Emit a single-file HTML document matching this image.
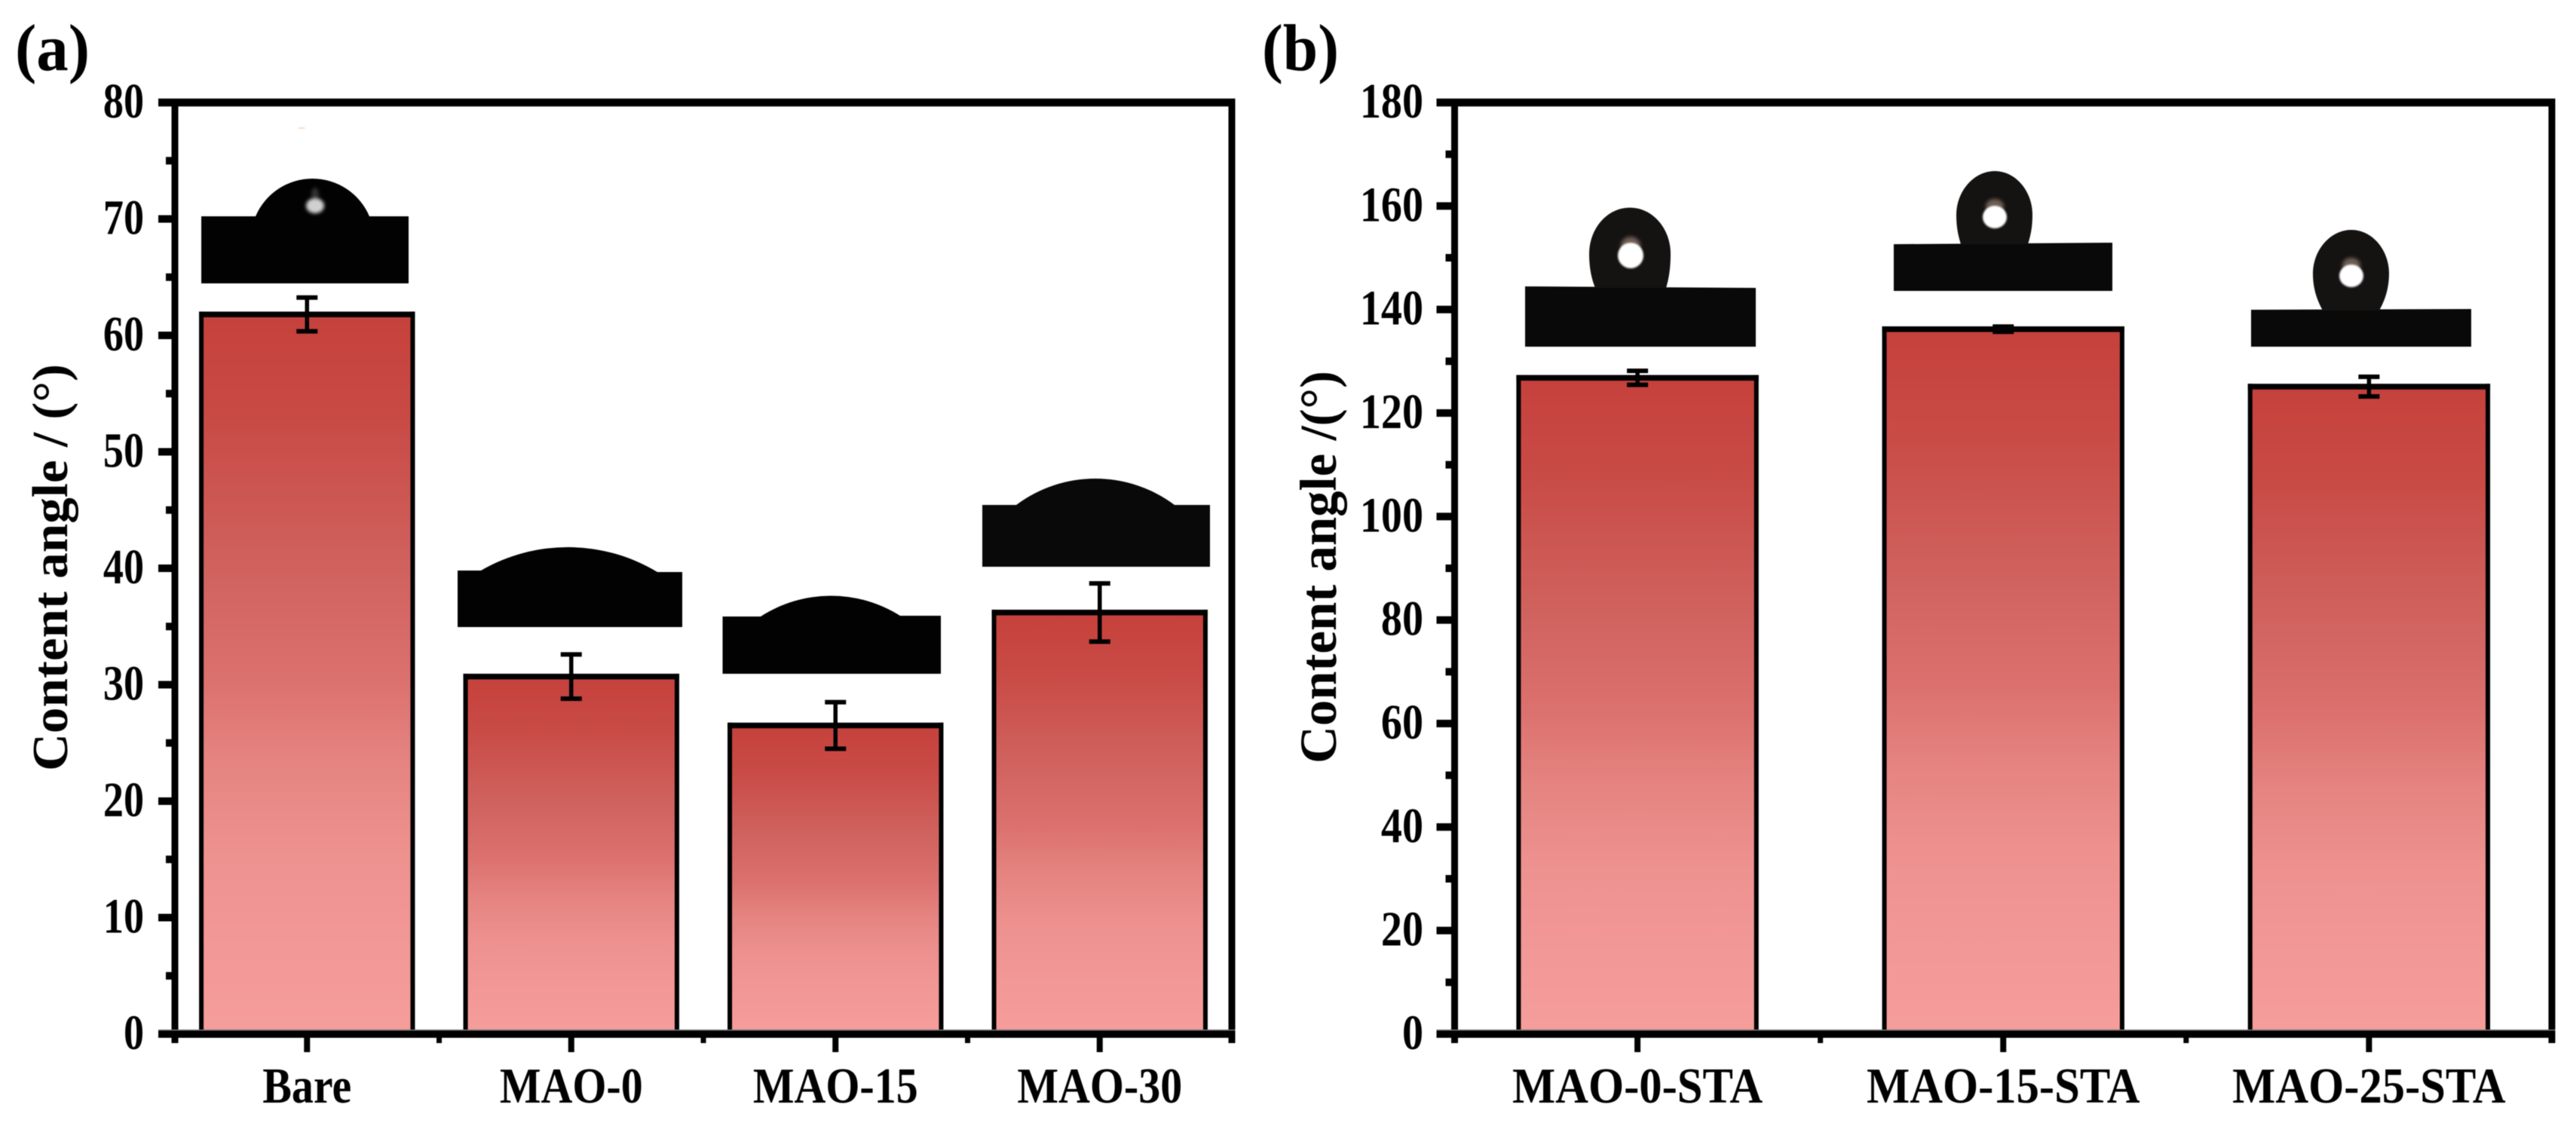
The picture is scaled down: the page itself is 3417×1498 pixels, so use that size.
<!DOCTYPE html>
<html lang="en">
<head>
<meta charset="utf-8">
<title>Content angle bar charts</title>
<style>
  html, body { margin: 0; padding: 0; background: #fff; }
  svg { display: block; filter: blur(0.6px); }
  text { font-family: "Liberation Serif", "Times New Roman", serif; font-weight: bold; fill: #000; }
</style>
</head>
<body>
<svg xmlns="http://www.w3.org/2000/svg" width="3417" height="1498" viewBox="0 0 3417 1498">
  <defs>
    <linearGradient id="bar-gradient" x1="0" y1="0" x2="0" y2="1">
      <stop offset="0" stop-color="#c6413c"/>
      <stop offset="0.15" stop-color="#c94b46"/>
      <stop offset="0.35" stop-color="#d0625e"/>
      <stop offset="0.5" stop-color="#db706d"/>
      <stop offset="0.62" stop-color="#e58481"/>
      <stop offset="0.75" stop-color="#ee9290"/>
      <stop offset="1" stop-color="#f69e9c"/>
    </linearGradient>
    <filter id="soft" x="-50%" y="-50%" width="200%" height="200%"><feGaussianBlur stdDeviation="2.5"/></filter>
    <filter id="soft-small" x="-50%" y="-50%" width="200%" height="200%"><feGaussianBlur stdDeviation="1"/></filter>
  </defs>

  <rect x="0" y="0" width="3417" height="1498" fill="#ffffff"/>

  <text x="20" y="93" font-size="88" textLength="99" lengthAdjust="spacingAndGlyphs">(a)</text>
  <text x="1674" y="93" font-size="88" textLength="102" lengthAdjust="spacingAndGlyphs">(b)</text>

  <text transform="translate(89,1023) rotate(-90)" font-size="67" textLength="540" lengthAdjust="spacingAndGlyphs">Content angle / (°)</text>
  <text transform="translate(1772,1013) rotate(-90)" font-size="69" textLength="521" lengthAdjust="spacingAndGlyphs">Content angle /(°)</text>

  <g id="chart-a"></g>
  <g id="chart-b"></g>

  <g>
    <ellipse cx="400" cy="170" rx="5" ry="1.2" fill="#fbe0cc"/>
    <path d="M267 287 L339 287 A82 82 0 0 1 490 287 L542 287 L542 376 L267 376 Z" fill="#020203"/>
    <ellipse cx="418" cy="258" rx="5" ry="9" fill="#333" filter="url(#soft)"/>
    <ellipse cx="418" cy="273" rx="12" ry="10" fill="#d0d0d0" filter="url(#soft)"/>
  </g>
  <g>
    <path d="M607 757 L638 757 A230 230 0 0 1 872 759 L905 759 L905 832 L607 832 Z" fill="#020203"/>
  </g>
  <g>
    <path d="M958.5 818 L1009 818 A172 172 0 0 1 1194 817 L1248 817 L1248 894 L958.5 894 Z" fill="#020203"/>
  </g>
  <g>
    <path d="M1303 670 L1348 670 A175 175 0 0 1 1558 670 L1605 670 L1605 752 L1303 752 Z" fill="#0a0909"/>
  </g>

  <g>
    <path d="M2023 380 L2329 382 L2329 460 L2023 460 Z" fill="#090909"/>
    <path d="M2116 382 C2112 372 2108 358 2108 337 C2108 303 2132 275.5 2162 275.5 C2192 275.5 2216 303 2216 337 C2216 358 2213 372 2210 382 Z" fill="#151212"/>
    <ellipse cx="2163" cy="326" rx="13" ry="12" fill="#6e5f54" filter="url(#soft)"/>
    <ellipse cx="2163" cy="339" rx="17" ry="17" fill="#ffffff" filter="url(#soft-small)"/>
  </g>
  <g>
    <path d="M2512 324 L2802 322 L2802 386 L2512 386 Z" fill="#090909"/>
    <path d="M2601 324 C2598 314 2595 303 2595 285 C2595 254 2618 227 2646 227 C2674 227 2696 254 2696 285 C2696 303 2693 314 2690 324 Z" fill="#151212"/>
    <ellipse cx="2646" cy="274" rx="12" ry="10" fill="#6e5f54" filter="url(#soft)"/>
    <ellipse cx="2646" cy="288" rx="16" ry="15" fill="#ffffff" filter="url(#soft-small)"/>
  </g>
  <g>
    <path d="M2986 411 L3278 410 L3278 460 L2986 460 Z" fill="#090909"/>
    <path d="M3081 412 C3074 399 3068 384 3068 363 C3068 332 3091 305 3119 305 C3147 305 3169 332 3169 363 C3169 384 3163 399 3156 412 Z" fill="#151212"/>
    <ellipse cx="3119" cy="352" rx="12" ry="10" fill="#6e5f54" filter="url(#soft)"/>
    <ellipse cx="3119" cy="366" rx="16" ry="15" fill="#ffffff" filter="url(#soft-small)"/>
  </g>
</svg>

<script>
const categoriesA = ['Bare', 'MAO-0', 'MAO-15', 'MAO-30'];
const valuesA = [61.8, 30.7, 26.5, 36.2];
const errorsA = [1.45, 1.9, 2.0, 2.5];
const tickLabelsA = [0, 10, 20, 30, 40, 50, 60, 70, 80];
const minorTicksA = [5, 15, 25, 35, 45, 55, 65, 75];

const categoriesB = ['MAO-0-STA', 'MAO-15-STA', 'MAO-25-STA'];
const valuesB = [126.8, 136.2, 125.1];
const errorsB = [1.35, 0.5, 1.9];
const tickLabelsB = [0, 20, 40, 60, 80, 100, 120, 140, 160, 180];
const minorTicksB = [10, 30, 50, 70, 90, 110, 130, 150, 170];

const SVG_NS = 'http://www.w3.org/2000/svg';

function rectEl(parent, x, y, w, h, fill) {
  const el = document.createElementNS(SVG_NS, 'rect');
  el.setAttribute('x', x);
  el.setAttribute('y', y);
  el.setAttribute('width', w);
  el.setAttribute('height', h);
  el.setAttribute('fill', fill);
  parent.appendChild(el);
  return el;
}

function textEl(parent, x, y, size, scaleX, anchor, content) {
  const el = document.createElementNS(SVG_NS, 'text');
  el.setAttribute('transform', 'translate(' + x + ',' + y + ') scale(' + scaleX + ',1)');
  el.setAttribute('font-size', size);
  el.setAttribute('text-anchor', anchor);
  el.textContent = content;
  parent.appendChild(el);
  return el;
}

function drawChart(id, suffix, categories, values, errors, tickLabels, minorTicks, g) {
  const root = document.getElementById(id);
  const maxV = tickLabels[tickLabels.length - 1];
  const yScale = function (v) { return g.y0 - (v / maxV) * (g.y0 - g.yTop); };
  const xScale = function (i) { return g.left + (i + 0.5) / categories.length * (g.right - g.left); };
  const barW = (g.right - g.left) / categories.length * g.barFrac;

  // bars
  categories.forEach(function (cat, i) {
    const cx = xScale(i);
    const top = yScale(values[i]);
    const key = cat.toLowerCase();

    const fill = rectEl(root, cx - barW / 2, top, barW, g.y0 - top, 'url(#bar-gradient)');
    
    

    const lb = rectEl(root, cx - barW / 2 - 3, top - 3.75, 6, g.y0 - top + 3.75, '#000');
    
    

    const rb = rectEl(root, cx + barW / 2 - 3, top - 3.75, 6, g.y0 - top + 3.75, '#000');
    
    

    const tb = rectEl(root, cx - barW / 2 - 3, top - 3.75, barW + 6, 7.5, '#000');
    
    

    const hi = yScale(values[i] + errors[i]);
    const lo = yScale(values[i] - errors[i]);

    const stem = rectEl(root, cx - 2.75, hi, 5.5, lo - hi, '#000');
    
    

    const capHi = rectEl(root, cx - 14, hi - 3, 28, 6, '#000');
    
    

    const capLo = rectEl(root, cx - 14, lo - 3, 28, 6, '#000');
    
    
  });

  // frame
  const spineL = rectEl(root, g.left - 4.5, g.yTop, 9, g.y0 - g.yTop + 12, '#000');
  
  

  const spineR = rectEl(root, g.right - 4.5, g.yTop - 5, 9, g.y0 - g.yTop + 17, '#000');
  
  

  const spineT = rectEl(root, g.left - g.majorLen, g.yTop - 5.25, g.right - g.left + g.majorLen + 4.5, 10.5, '#000');
  
  

  const fringe = rectEl(root, g.left - g.majorLen, g.y0 - 6, g.right - g.left + g.majorLen + 4.5, 2, '#777');
  
  

  const spineB = rectEl(root, g.left - g.majorLen, g.y0 - 4.5, g.right - g.left + g.majorLen + 4.5, 9.5, '#000');
  
  

  // y ticks
  tickLabels.forEach(function (v) {
    const y = yScale(v);
    if (v !== maxV && v !== 0) {
      const t = rectEl(root, g.left - g.majorLen, y - 5, g.majorLen, 10, '#000');
      
      
    }
    const lab = textEl(root, g.left - g.labelGap, y + 20, 66, g.tickScale, 'end', String(v));
    
    
  });

  minorTicks.forEach(function (v) {
    const t = rectEl(root, g.left - g.minorLen, yScale(v) - 5, g.minorLen, 10, '#000');
    
    
  });

  // x ticks
  categories.forEach(function (cat, i) {
    const cx = xScale(i);
    const key = cat.toLowerCase();

    const t = rectEl(root, cx - 4, g.y0, 8, 24, '#000');
    
    

    const lab = textEl(root, cx, 1463, 67, g.catScale, 'middle', cat);
    
    

    if (i < categories.length - 1) {
      const m = rectEl(root, cx + (xScale(1) - xScale(0)) / 2 - 3.5, g.y0, 7, 12, '#000');
      
      
    }
  });
}

drawChart('chart-a', 'a', categoriesA, valuesA, errorsA, tickLabelsA, minorTicksA, {
  left: 232, right: 1634, y0: 1372, yTop: 136, barFrac: 0.8,
  majorLen: 22, minorLen: 12, labelGap: 41, tickScale: 0.82, catScale: 0.865
});
drawChart('chart-b', 'b', categoriesB, valuesB, errorsB, tickLabelsB, minorTicksB, {
  left: 1929.5, right: 3385, y0: 1372, yTop: 136, barFrac: 0.65,
  majorLen: 24, minorLen: 12, labelGap: 41.5, tickScale: 0.85, catScale: 0.905
});
</script>
</body>
</html>
